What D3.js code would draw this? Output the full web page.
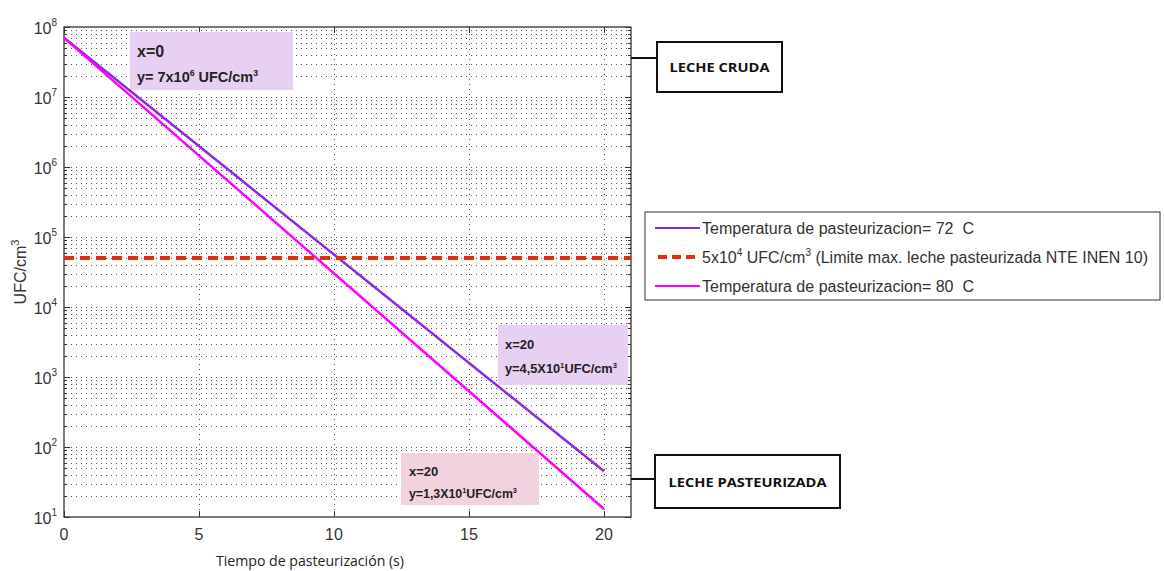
<!DOCTYPE html>
<html>
<head>
<meta charset="utf-8">
<script src="https://cdn.jsdelivr.net/npm/d3@7"></script>
<style>
  body { margin: 0; background: #fff; }
  svg { display: block; }
  .tick-lbl { font-family: "Liberation Sans Narrow", "Liberation Sans", Arial, sans-serif; fill: #333; }
  .note { font-family: "Liberation Sans Narrow", "Liberation Sans", Arial, sans-serif; font-weight: bold; fill: #222; }
</style>
</head>
<body>
<svg id="svg1"></svg>
<script>
// datos
var tiempos = [0, 20];                 // s
var ufc72 = [7e7, 45];                 // Temperatura 72 C
var ufc80 = [7e7, 13];                 // Temperatura 80 C
var limite = 5e4;                      // NTE INEN 10
var xTicks = [0, 5, 10, 15, 20];
var yDecadas = [1, 2, 3, 4, 5, 6, 7, 8];
var leyenda = [
  { txt: "Temperatura de pasteurizacion= 72\u00a0\u00a0C", color: "#8a2be2", dash: null, len: 272 },
  { txt: "5x10|4| UFC/cm|3| (Limite max. leche pasteurizada NTE INEN 10)", color: "#e0300e", dash: "9,5", len: 446 },
  { txt: "Temperatura de pasteurizacion= 80\u00a0\u00a0C", color: "#ff00ff", dash: null, len: 272 }
];

var W = 1164, H = 571;
var svg = d3.select("#svg1").attr("width", W).attr("height", H);

var x = d3.scaleLinear().domain([0, 21]).range([64, 631]);
var y = d3.scaleLog().domain([10, 1e8]).range([517, 27]);

// rejilla menor (2..9 de cada decada) y mayor
var minor = [];
yDecadas.slice(0, -1).forEach(function (e) {
  for (var k = 2; k <= 9; k++) minor.push(k * Math.pow(10, e));
});
var grid = svg.append("g").attr("stroke", "#555").attr("stroke-width", 1).attr("stroke-dasharray", "1,4");
grid.selectAll(".gy").data(minor.concat(yDecadas.slice(1, -1).map(function (e) { return Math.pow(10, e); })))
  .enter().append("line")
  .attr("x1", x(0) + 2).attr("x2", x(21))
  .attr("y1", function (d) { return Math.round(y(d)) + 0.5; })
  .attr("y2", function (d) { return Math.round(y(d)) + 0.5; });
grid.selectAll(".gx").data(xTicks.slice(1))
  .enter().append("line")
  .attr("y1", y(1e8) + 2).attr("y2", y(10))
  .attr("x1", function (d) { return Math.round(x(d)) + 0.5; })
  .attr("x2", function (d) { return Math.round(x(d)) + 0.5; });

// marco y ticks
var frame = svg.append("g").attr("stroke", "#333").attr("fill", "none");
frame.append("rect").attr("x", x(0)).attr("y", y(1e8))
  .attr("width", x(21) - x(0)).attr("height", y(10) - y(1e8)).attr("stroke-width", 1.3);
minor.forEach(function (d) {
  var yy = Math.round(y(d)) + 0.5;
  frame.append("line").attr("x1", x(0)).attr("x2", x(0) + 3).attr("y1", yy).attr("y2", yy);
  frame.append("line").attr("x1", x(21)).attr("x2", x(21) - 3).attr("y1", yy).attr("y2", yy);
});
yDecadas.forEach(function (e) {
  var yy = Math.round(y(Math.pow(10, e))) + 0.5;
  frame.append("line").attr("x1", x(0)).attr("x2", x(0) + 6).attr("y1", yy).attr("y2", yy);
  frame.append("line").attr("x1", x(21)).attr("x2", x(21) - 6).attr("y1", yy).attr("y2", yy);
});
xTicks.forEach(function (d) {
  var xx = Math.round(x(d)) + 0.5;
  frame.append("line").attr("x1", xx).attr("x2", xx).attr("y1", y(10)).attr("y2", y(10) - 6);
  frame.append("line").attr("x1", xx).attr("x2", xx).attr("y1", y(1e8)).attr("y2", y(1e8) + 6);
});

// etiquetas de ejes
svg.selectAll(".xl").data(xTicks).enter().append("text")
  .attr("class", "tick-lbl").attr("font-size", 16)
  .attr("x", function (d) { return x(d); }).attr("y", y(10) + 23)
  .attr("text-anchor", "middle").text(function (d) { return d; });

var yl = svg.selectAll(".yl").data(yDecadas).enter().append("text")
  .attr("class", "tick-lbl").attr("font-size", 16)
  .attr("x", 57).attr("y", function (e) { return y(Math.pow(10, e)) + 7; })
  .attr("text-anchor", "end");
yl.append("tspan").text("10");
yl.append("tspan").attr("font-size", 10).attr("dy", -8).text(function (e) { return e; });

var ytit = svg.append("text").attr("class", "tick-lbl").attr("font-size", 16)
  .attr("transform", "translate(26," + 272 + ") rotate(-90)").attr("text-anchor", "middle");
ytit.append("tspan").text("UFC/cm");
ytit.append("tspan").attr("font-size", 11).attr("dy", -7).text("3");

svg.append("text").attr("font-family", "'Open Sans', sans-serif").attr("font-size", 15).attr("fill", "#222")
  .attr("x", 310).attr("y", 566).attr("text-anchor", "middle")
  .attr("textLength", 188).attr("lengthAdjust", "spacingAndGlyphs")
  .text("Tiempo de pasteurización (s)");

// notas
function nota(bx, by, bw, bh, fill, l1, l2, fs1, fs2, tx, ty1, ty2, len2) {
  var g = svg.append("g");
  g.append("rect").attr("x", bx).attr("y", by).attr("width", bw).attr("height", bh).attr("fill", fill);
  g.append("text").attr("class", "note").attr("font-size", fs1).attr("x", tx).attr("y", ty1).text(l1);
  var t = g.append("text").attr("class", "note").attr("font-size", fs2).attr("x", tx).attr("y", ty2)
    .attr("textLength", len2).attr("lengthAdjust", "spacingAndGlyphs");
  l2.split("|").forEach(function (p, i) {
    if (i % 2) t.append("tspan").attr("font-size", fs2 * 0.6).attr("dy", -fs2 * 0.4).text(p);
    else t.append("tspan").attr("dy", i ? fs2 * 0.4 : 0).text(p);
  });
}
nota(130, 32, 163, 58, "#e8d0f2", "x=0", "y= 7x10|6| UFC/cm|3|", 16, 14, 137, 57, 82, 121);

// series
var line = d3.line().x(function (d) { return x(d[0]); }).y(function (d) { return y(d[1]); });
svg.append("path").datum(d3.zip(tiempos, ufc72)).attr("d", line)
  .attr("fill", "none").attr("stroke", "#8a2be2").attr("stroke-width", 2.5);
svg.append("path").datum(d3.zip(tiempos, ufc80)).attr("d", line)
  .attr("fill", "none").attr("stroke", "#ff00ff").attr("stroke-width", 2.5);
svg.append("line").attr("x1", x(0)).attr("x2", x(21)).attr("y1", y(limite)).attr("y2", y(limite))
  .attr("stroke", "#e0300e").attr("stroke-width", 4).attr("stroke-dasharray", "10,6");

nota(498, 325, 130, 60, "#e8d0f2", "x=20", "y=4,5X10|1|UFC/cm|3|", 13, 12, 505, 349, 373, 112);
nota(401, 453, 138, 52, "#f2d2de", "x=20", "y=1,3X10|1|UFC/cm|3|", 13, 12, 409, 476, 498, 108);

// leyenda
var lg = svg.append("g");
lg.append("rect").attr("x", 645).attr("y", 212).attr("width", 515).attr("height", 88)
  .attr("fill", "#fff").attr("stroke", "#333").attr("stroke-width", 1);
leyenda.forEach(function (d, i) {
  var yy = 228 + i * 29;
  lg.append("line").attr("x1", d.dash ? 658 : 655).attr("x2", 700).attr("y1", yy).attr("y2", yy)
    .attr("stroke", d.color).attr("stroke-width", d.dash ? 4 : 2).attr("stroke-dasharray", d.dash);
  var t = lg.append("text").attr("class", "tick-lbl").attr("font-size", 16).attr("fill", "#222")
    .attr("x", 702).attr("y", yy + 6)
    .attr("textLength", d.len).attr("lengthAdjust", "spacingAndGlyphs");
  d.txt.split("|").forEach(function (p, k) {
    if (k % 2) t.append("tspan").attr("font-size", 10).attr("dy", -7).text(p);
    else t.append("tspan").attr("dy", k ? 7 : 0).text(p);
  });
});

// cajas laterales
function caja(bx, by, bw, bh, ly, txt, tl) {
  svg.append("line").attr("x1", x(21)).attr("x2", bx).attr("y1", ly).attr("y2", ly)
    .attr("stroke", "#111").attr("stroke-width", 2);
  svg.append("rect").attr("x", bx).attr("y", by).attr("width", bw).attr("height", bh)
    .attr("fill", "#fff").attr("stroke", "#111").attr("stroke-width", 2);
  svg.append("text").attr("font-family", "'Open Sans', sans-serif").attr("font-weight", "bold")
    .attr("font-size", 13).attr("fill", "#111")
    .attr("x", bx + bw / 2).attr("y", by + bh / 2 + 5).attr("text-anchor", "middle")
    .attr("textLength", tl).attr("lengthAdjust", "spacingAndGlyphs").text(txt);
}
caja(657, 42, 125, 50, 58, "LECHE CRUDA", 100);
caja(655, 455, 185, 53, 479, "LECHE PASTEURIZADA", 158);
</script>
</body>
</html>
